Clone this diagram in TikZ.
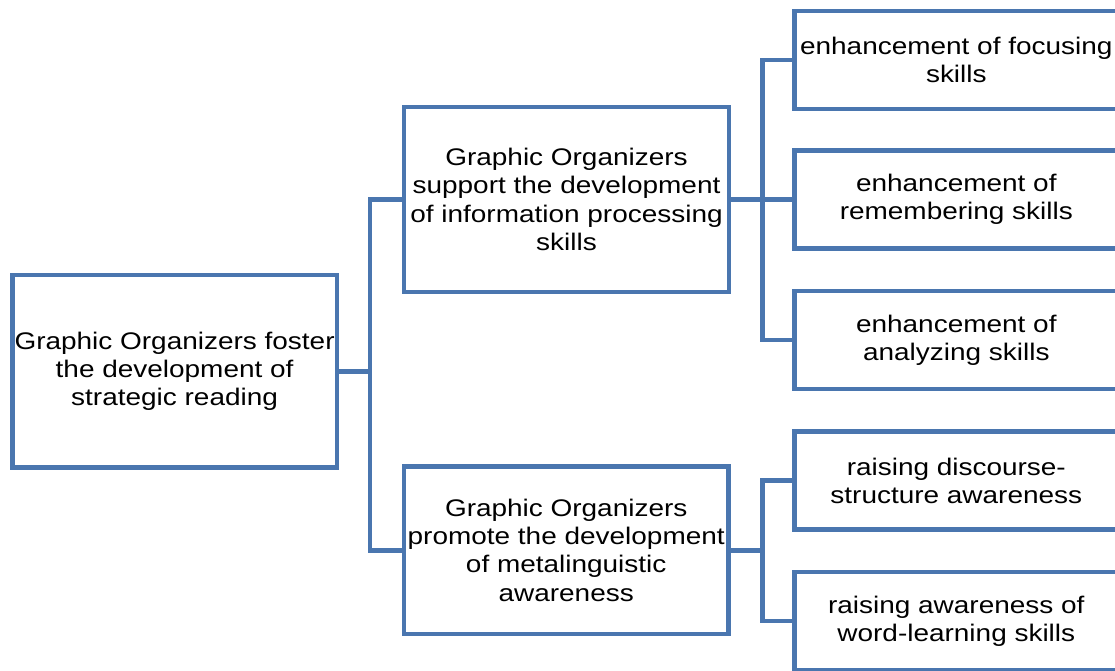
\documentclass[tikz,border=0pt]{standalone}
\usepackage{fontspec}
\setmainfont{Liberation Sans}[FakeStretch=1.165]
\definecolor{orgblue}{HTML}{4A76AF}
\tikzset{
	orgbox/.style={draw=orgblue, line width=4.6pt, fill=white, inner sep=0pt, align=center, font=\fontsize{24}{28.3}\selectfont},
	leafbox/.style={orgbox, minimum width=324pt, minimum height=98pt},
	orgline/.style={draw=orgblue, line width=4.6pt}
}

\begin{document}
\begin{tikzpicture}[x=1pt, y=-1pt]
		%%%%% START %%%%%
		
		\useasboundingbox (0, 0) rectangle (1115, 671);
		
		\node[orgbox, minimum width=324.8pt, minimum height=192.5pt] (root) at (174.6, 371.2) {Graphic Organizers foster\\the development of\\strategic reading};
		
		\node[orgbox, minimum width=325pt, minimum height=185pt] (gsupport) at (566.5, 199.5) {Graphic Organizers\\support the development\\of information processing\\skills};
		\node[orgbox, minimum width=324.7pt, minimum height=167.5pt] (gpromote) at (566.2, 550.2) {Graphic Organizers\\promote the development\\of metalinguistic\\awareness};
		
		\node[leafbox] (focus) at (956.3, 60) {enhancement of focusing\\skills};
		\node[leafbox] (remember) at (956.3, 199.5) {enhancement of\\remembering skills};
		\node[leafbox] (analyze) at (956.3, 340) {enhancement of\\analyzing skills};
		\node[leafbox] (discourse) at (956.3, 480.7) {raising discourse-\\structure awareness};
		\node[leafbox] (wordlearn) at (956.3, 621) {raising awareness of\\word-learning skills};
		
		\coordinate (rootfork) at (370, 371.2);
		\coordinate (supportfork) at (762.5, 199.5);
		\coordinate (promotefork) at (762.5, 550.2);
		
		\draw[orgline] (root.east) -- (rootfork);
		\draw[orgline] (rootfork) |- (gsupport.west);
		\draw[orgline] (rootfork) |- (gpromote.west);
		
		\draw[orgline] (gsupport.east) -- (supportfork);
		\draw[orgline] (supportfork) |- (focus.west);
		\draw[orgline] (supportfork) -- (remember.west);
		\draw[orgline] (supportfork) |- (analyze.west);
		
		\draw[orgline] (gpromote.east) -- (promotefork);
		\draw[orgline] (promotefork) |- (discourse.west);
		\draw[orgline] (promotefork) |- (wordlearn.west);
		
		%%%%% END %%%%%
	\end{tikzpicture}
\end{document}
